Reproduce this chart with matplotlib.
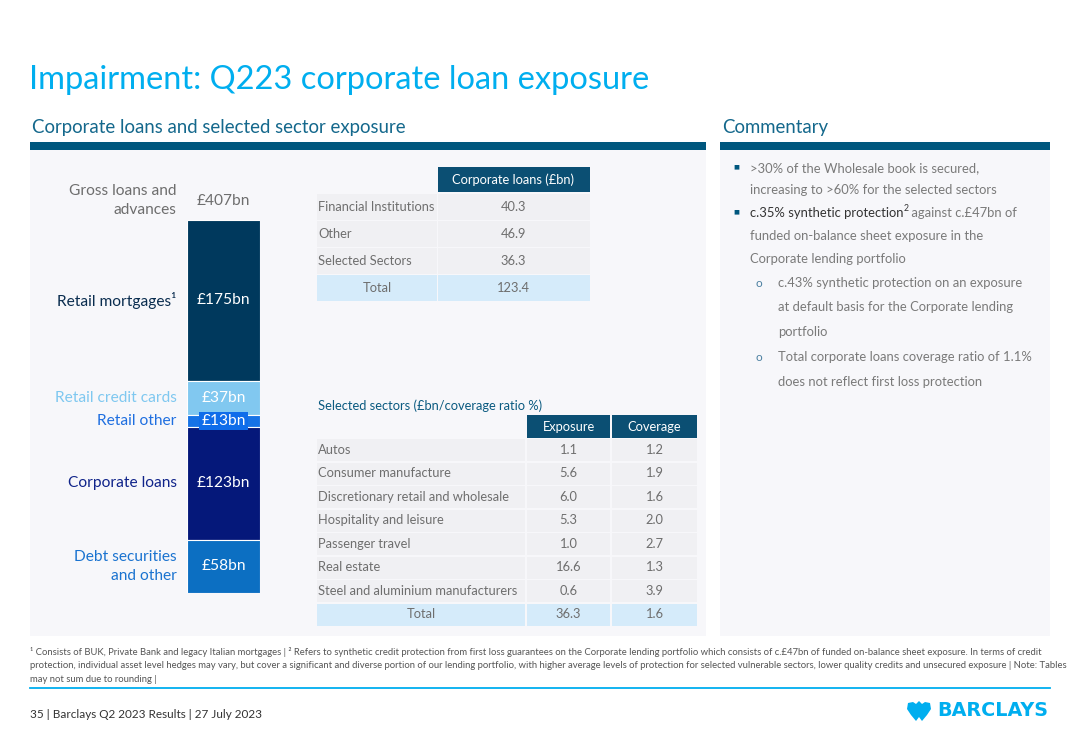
import matplotlib
matplotlib.use("Agg")
import matplotlib.pyplot as plt
from matplotlib.patches import Rectangle, Polygon

plt.rcParams['font.family'] = ['Lato', 'DejaVu Sans']

# ---- data ----
segments = ['Retail mortgages\u00b9', 'Retail credit cards', 'Retail other',
            'Corporate loans', 'Debt securities\nand other']
seg_values = [175, 37, 13, 123, 58]
seg_labels = ['£175bn', '£37bn', '£13bn', '£123bn', '£58bn']
gross_total = '£407bn'

corp_rows = ['Financial Institutions', 'Other', 'Selected Sectors', 'Total']
corp_values = ['40.3', '46.9', '36.3', '123.4']

sectors = ['Autos', 'Consumer manufacture', 'Discretionary retail and wholesale',
           'Hospitality and leisure', 'Passenger travel', 'Real estate',
           'Steel and aluminium manufacturers', 'Total']
exposure = ['1.1', '5.6', '6.0', '5.3', '1.0', '16.6', '0.6', '36.3']
coverage = ['1.2', '1.9', '1.6', '2.0', '2.7', '1.3', '3.9', '1.6']

# ---- colours ----
seg_colors = ['#00395D', '#81C8F0', '#1673E6', '#05187A', '#0C6FC2']
lab_colors = ['#0A2D4F', '#7FC8F0', '#1F6FE0', '#10248A', '#1A73D0']
cyan = '#00AEEF'
teal = '#00577E'
head = '#0B4F73'
grey = '#6E6E6E'
cell = '#F0F0F3'
total_fill = '#D5EBFA'
tfs = 9.3   # table font size
lfs = 11.2  # bar label font size

fig = plt.figure(figsize=(10.8, 7.48), dpi=100)
bg = fig.add_axes([0, 0, 1, 1])
bg.set_xlim(0, 1080)
bg.set_ylim(748, 0)
bg.axis('off')

# title + section headings
bg.text(29, 80, 'Impairment: Q223 corporate loan exposure', fontsize=23.5,
        color=cyan, va='center')
bg.text(32, 127, 'Corporate loans and selected sector exposure', fontsize=13.4,
        color='#14688C', va='center')
bg.text(722, 127, 'Commentary', fontsize=13.4, color='#14688C', va='center')
for x0, x1 in [(30, 706), (720, 1050)]:
    bg.add_patch(Rectangle((x0, 142), x1 - x0, 8, color=teal, lw=0))
    bg.add_patch(Rectangle((x0, 150), x1 - x0, 486, color='#F7F7FA', lw=0))

# ---- stacked bar ----
ax = fig.add_axes([187 / 1080, 1 - 593 / 748, 73 / 1080, 373 / 748])
ax.set_xlim(-0.5, 0.5)
ax.set_ylim(sum(seg_values), 0)
ax.axis('off')
bottom = 0
for name, v, lab, c, lc in zip(segments, seg_values, seg_labels, seg_colors, lab_colors):
    ax.bar(0, v, width=1, bottom=bottom, color=c, edgecolor='white', linewidth=0.8)
    mid = bottom + v / 2
    if lab == '£13bn':
        ax.text(0, mid + 0.5, lab, ha='center', va='center', fontsize=lfs, color='white',
                bbox=dict(boxstyle='square,pad=0.12', fc='#0F6DEA', ec='none'))
    else:
        ax.text(0, mid, lab, ha='center', va='center', fontsize=lfs, color='white')
    ax.text(-0.64, mid, name, ha='right', va='center', fontsize=lfs, color=lc,
            linespacing=1.45, clip_on=False)
    bottom += v
ax.text(-0.64, -21, 'Gross loans and\nadvances', ha='right', va='center',
        fontsize=lfs, color=grey, linespacing=1.45, clip_on=False)
ax.text(0, -21, gross_total, ha='center', va='center', fontsize=lfs,
        color=grey, clip_on=False)

# ---- corporate loans table ----
lx0, lx1, vx1 = 317, 437, 590
bg.add_patch(Rectangle((lx1 + 1, 167), vx1 - lx1 - 1, 25, color=head, lw=0))
bg.text((lx1 + vx1) / 2, 180, 'Corporate loans (£bn)', ha='center', va='center',
        fontsize=tfs, color='white')
row_h = 27
for i, (r, v) in enumerate(zip(corp_rows, corp_values)):
    y = 194 + i * row_h
    fill = total_fill if r == 'Total' else cell
    bg.add_patch(Rectangle((lx0, y), lx1 - lx0, row_h - 1.5, color=fill, lw=0))
    bg.add_patch(Rectangle((lx1 + 1, y), vx1 - lx1 - 1, row_h - 1.5, color=fill, lw=0))
    if r == 'Total':
        bg.text((lx0 + lx1) / 2, y + row_h / 2 - 1, r, ha='center', va='center',
                fontsize=tfs, color=grey)
    else:
        bg.text(lx0 + 1, y + row_h / 2 - 1, r, ha='left', va='center',
                fontsize=tfs, color=grey)
    bg.text((lx1 + vx1) / 2, y + row_h / 2 - 1, v, ha='center', va='center',
            fontsize=tfs, color=grey)

# ---- selected sectors table ----
bg.text(318, 406, 'Selected sectors (£bn/coverage ratio %)', fontsize=tfs,
        color='#0A5A80', va='center')
cols = [(317, 525), (527, 610), (612, 697)]
for (c0, c1), h in zip(cols[1:], ['Exposure', 'Coverage']):
    bg.add_patch(Rectangle((c0, 415), c1 - c0, 23, color=head, lw=0))
    bg.text((c0 + c1) / 2, 427, h, ha='center', va='center', fontsize=tfs, color='white')
row_h2 = 23.5
for i, (s, e, cv) in enumerate(zip(sectors, exposure, coverage)):
    y = 439 + i * row_h2
    fill = total_fill if s == 'Total' else cell
    for c0, c1 in cols:
        bg.add_patch(Rectangle((c0, y), c1 - c0, row_h2 - 1.5, color=fill, lw=0))
    yc = y + row_h2 / 2 - 1
    if s == 'Total':
        bg.text((cols[0][0] + cols[0][1]) / 2, yc, s, ha='center', va='center',
                fontsize=tfs, color=grey)
    else:
        bg.text(318, yc, s, ha='left', va='center', fontsize=tfs, color=grey)
    bg.text((cols[1][0] + cols[1][1]) / 2, yc, e, ha='center', va='center',
            fontsize=tfs, color=grey)
    bg.text((cols[2][0] + cols[2][1]) / 2, yc, cv, ha='center', va='center',
            fontsize=tfs, color=grey)

# ---- commentary ----
cg = '#7A7A7A'
cfs = 9.4
bg.text(733, 167, '\u25a0', fontsize=4.5, color=teal, va='center')
bg.text(750, 168, '>30% of the Wholesale book is secured,', fontsize=cfs, color=cg, va='center')
bg.text(750, 190, 'increasing to >60% for the selected sectors', fontsize=cfs, color=cg, va='center')
bg.text(733, 212, '\u25a0', fontsize=4.5, color=teal, va='center')
renderer = fig.canvas.get_renderer()
t1 = bg.text(750, 213, 'c.35% synthetic protection', fontsize=cfs, color='#333333', va='center')
bb = t1.get_window_extent(renderer)
xpix = 750 + bb.width
t2 = bg.text(xpix, 208, '2', fontsize=6.3, color='#333333', va='center')
xpix += t2.get_window_extent(renderer).width
bg.text(xpix, 213, ' against c.£47bn of', fontsize=cfs, color=cg, va='center')
bg.text(750, 236, 'funded on-balance sheet exposure in the', fontsize=cfs, color=cg, va='center')
bg.text(750, 259, 'Corporate lending portfolio', fontsize=cfs, color=cg, va='center')
sub = [(283, 'c.43% synthetic protection on an exposure', True),
       (307, 'at default basis for the Corporate lending', False),
       (332, 'portfolio', False),
       (357, 'Total corporate loans coverage ratio of 1.1%', True),
       (382, 'does not reflect first loss protection', False)]
for y, s, b in sub:
    if b:
        bg.text(755, y, 'o', fontsize=8.5, color='#4A7FA0', va='center')
    bg.text(778, y, s, fontsize=cfs, color=cg, va='center')

# ---- footnotes ----
fn = ['\u00b9 Consists of BUK, Private Bank and legacy Italian mortgages | \u00b2 Refers to synthetic credit protection from first loss guarantees on the Corporate lending portfolio which consists of c.£47bn of funded on-balance sheet exposure. In terms of credit',
      'protection, individual asset level hedges may vary, but cover a significant and diverse portion of our lending portfolio, with higher average levels of protection for selected vulnerable sectors, lower quality credits and unsecured exposure | Note: Tables',
      'may not sum due to rounding |']
for i, s in enumerate(fn):
    bg.text(30, 652 + i * 14, s, fontsize=6.8, color='#555555', va='center')
bg.plot([30, 1050], [688, 688], color=cyan, lw=1.3)
bg.text(30, 714, '35 | Barclays Q2 2023 Results | 27 July 2023', fontsize=8.5,
        color='#333333', va='center')
bg.text(1048, 711, 'BARCLAYS', fontsize=13.8, color=cyan, va='center', ha='right',
        fontweight='bold', family=['DejaVu Sans'])
# eagle mark
eagle = [(919, 701), (922, 704), (925, 702), (930, 703), (931, 709), (927, 715),
         (922, 721), (919, 717), (916, 721), (911, 715), (907, 709), (908, 703),
         (913, 702), (916, 704)]
bg.add_patch(Polygon(eagle, closed=True, color=cyan, lw=0))

fig.savefig('out.png', dpi=100, facecolor='white')
